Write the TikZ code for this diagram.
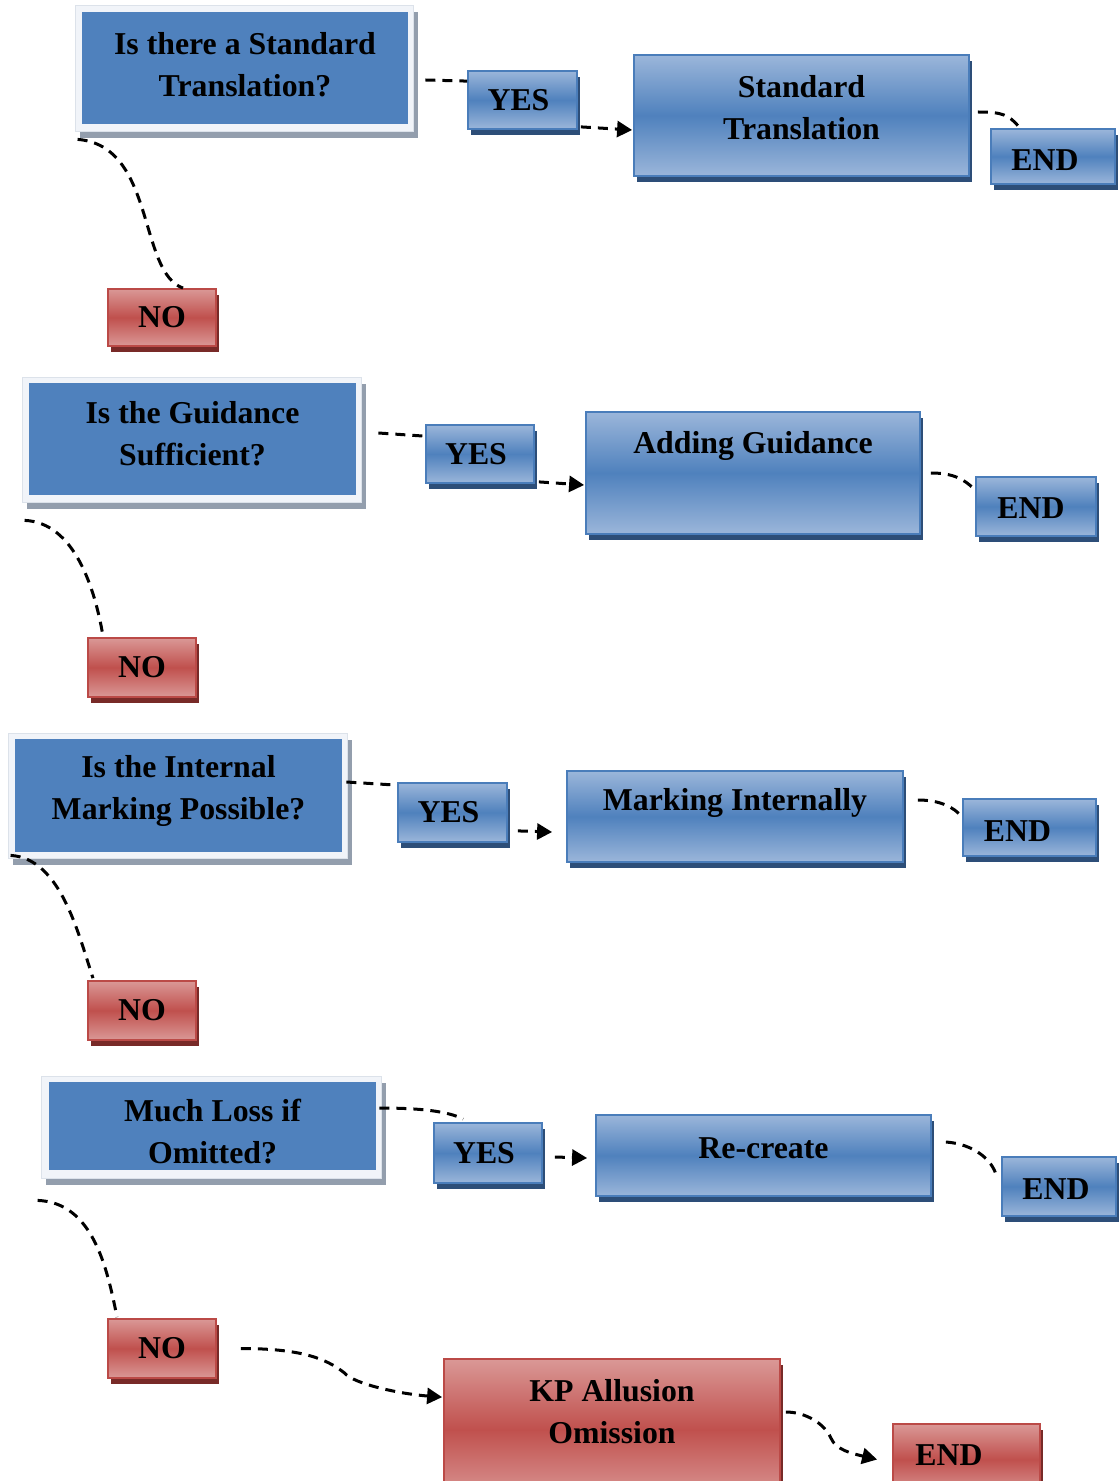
\documentclass[tikz,border=0pt]{standalone}
\usepackage{fontspec}
\setmainfont{Liberation Serif}
\usetikzlibrary{calc,shadows,arrows.meta}
\definecolor{qblue}{HTML}{4F81BD}
\definecolor{qframebg}{HTML}{F1F4F9}
\definecolor{qframeline}{HTML}{DCE2EA}
\definecolor{qshadow}{HTML}{939EAD}
\definecolor{blight}{HTML}{9BB6DA}
\definecolor{bmid}{HTML}{4F81BD}
\definecolor{bborder}{HTML}{4A7DBA}
\definecolor{bshadow}{HTML}{2D4E78}
\definecolor{rlight}{HTML}{DA9896}
\definecolor{rmid}{HTML}{C0504D}
\definecolor{rborder}{HTML}{BB4A47}
\definecolor{rshadow}{HTML}{782A28}
\begin{document}
\begin{tikzpicture}[x=0.5pt,y=-0.5pt,
  txt/.style={font=\fontsize{15.9}{21}\selectfont\bfseries, align=center, text=black, inner sep=0pt},
  qframe/.style={rectangle, fill=qframebg, draw=qframeline, line width=0.4pt, inner sep=0pt,
    drop shadow={shadow xshift=2.5pt, shadow yshift=-3.5pt, fill=qshadow, opacity=1}},
  qbox/.style={rectangle, fill=qblue, inner sep=0pt},
  bbox/.style={rectangle, draw=bborder, line width=0.9pt, inner sep=0pt,
    top color=blight, bottom color=blight, middle color=bmid,
    drop shadow={shadow xshift=1.5pt, shadow yshift=-3pt, fill=bshadow, opacity=1}},
  rbox/.style={rectangle, draw=rborder, line width=0.9pt, inner sep=0pt,
    top color=rlight, bottom color=rlight, middle color=rmid,
    drop shadow={shadow xshift=1.5pt, shadow yshift=-3pt, fill=rshadow, opacity=1}},
  conn/.style={draw=black, line width=1.5pt, dash pattern=on 5pt off 3.5pt},
  arr/.style={conn, -{Triangle[length=7.5pt,width=8pt]}}
]
\useasboundingbox (0,0) rectangle (1119,1481);

% ---------- row 1 ----------
\node[qframe, minimum width=169pt, minimum height=63pt] (q1f) at (244,68) {};
\node[qbox, minimum width=163pt, minimum height=56pt,
  label={[txt,yshift=1.5pt]center:Is there a Standard\\Translation?}] (q1) at (245,68) {};
\node[bbox, minimum width=54.5pt, minimum height=29pt, label={[txt,xshift=-2pt]center:YES}] (yes1) at (522.5,100) {};
\node[bbox, minimum width=167.5pt, minimum height=60.5pt,
  label={[txt,yshift=3.75pt]center:Standard\\Translation}] (st) at (801.5,115.5) {};
\node[bbox, minimum width=62pt, minimum height=27.5pt, label={[txt,xshift=-4pt,yshift=-1.75pt]center:END}] (end1) at (1053,156.5) {};
\node[rbox, minimum width=54pt, minimum height=28.5pt, label={[txt]center:NO}] (no1) at (162,317.5) {};

% ---------- row 2 ----------
\node[qframe, minimum width=169.5pt, minimum height=62.5pt] (q2f) at (191.5,439.5) {};
\node[qbox, minimum width=163.5pt, minimum height=56pt,
  label={[txt,yshift=2.5pt]center:Is the Guidance\\Sufficient?}] (q2) at (192.5,439) {};
\node[bbox, minimum width=54pt, minimum height=29pt, label={[txt,xshift=-2pt]center:YES}] (yes2) at (480,454) {};
\node[bbox, minimum width=167pt, minimum height=61pt,
  label={[txt,yshift=13.5pt]center:Adding Guidance}] (ag) at (753,473) {};
\node[bbox, minimum width=60pt, minimum height=29.5pt, label={[txt,xshift=-2.5pt,yshift=-0.75pt]center:END}] (end2) at (1036,506.5) {};
\node[rbox, minimum width=54pt, minimum height=29.5pt, label={[txt]center:NO}] (no2) at (142,667.5) {};

% ---------- row 3 ----------
\node[qframe, minimum width=169.5pt, minimum height=62.5pt] (q3f) at (177.5,795.5) {};
\node[qbox, minimum width=163.5pt, minimum height=56.5pt,
  label={[txt,yshift=2.25pt]center:Is the Internal\\Marking Possible?}] (q3) at (178.5,795.5) {};
\node[bbox, minimum width=54.5pt, minimum height=29.5pt, label={[txt,xshift=-2pt]center:YES}] (yes3) at (452.5,812.5) {};
\node[bbox, minimum width=168pt, minimum height=45.5pt,
  label={[txt,yshift=6.75pt]center:Marking Internally}] (mi) at (735,816.5) {};
\node[bbox, minimum width=66.5pt, minimum height=28.5pt, label={[txt,xshift=-6pt,yshift=-1.75pt]center:END}] (end3) at (1029.5,827.5) {};
\node[rbox, minimum width=54pt, minimum height=29.5pt, label={[txt]center:NO}] (no3) at (142,1010.5) {};

% ---------- row 4 ----------
\node[qframe, minimum width=170pt, minimum height=51pt] (q4f) at (211,1127) {};
\node[qbox, minimum width=163.5pt, minimum height=44pt,
  label={[txt,yshift=-3pt]center:Much Loss if\\Omitted?}] (q4) at (212.5,1126) {};
\node[bbox, minimum width=54pt, minimum height=30pt, label={[txt,xshift=-2pt]center:YES}] (yes4) at (488,1153) {};
\node[bbox, minimum width=167.5pt, minimum height=40.5pt,
  label={[txt,yshift=3.75pt]center:Re-create}] (rc) at (763.5,1155.5) {};
\node[bbox, minimum width=57pt, minimum height=29.5pt, label={[txt,xshift=-1.5pt,yshift=-1.25pt]center:END}] (end4) at (1059,1186.5) {};
\node[rbox, minimum width=54pt, minimum height=29.5pt, label={[txt]center:NO}] (no4) at (162,1348.5) {};

% ---------- row 5 ----------
\node[rbox, minimum width=168pt, minimum height=70.5pt,
  label={[txt,yshift=8.75pt]center:KP Allusion\\Omission}] (kp) at (612,1429.5) {};
\node[rbox, minimum width=73.5pt, minimum height=35.5pt, label={[txt,xshift=-8.75pt,yshift=2.25pt]center:END}] (end5) at (966.5,1459.5) {};

% ---------- connectors ----------
% row 1
\draw[conn] ($(q1f.east)+(12,12)$) -- ($(yes1.north west)+(0,11)$);
\draw[arr] ($(yes1.south east)+(3,-3)$) -- ($(st.west)+(-1,14.5)$);
\draw[conn] ($(st.east)+(8,-3.5)$) .. controls +(25,0) and +(-10,-12) .. ($(end1.north west)+(29,-1)$);
\draw[conn] ($(q1f.south west)+(3,8)$) .. controls +(78,6) and +(-45,-16) .. ($(no1.north)+(21,0)$);
% row 2
\draw[conn] ($(q2f.east)+(17,-6.5)$) -- ($(yes2.north west)+(-1,12)$);
\draw[arr] ($(yes2.south east)+(4,-2)$) -- ($(ag.west)+(-1,12)$);
\draw[conn] ($(ag.east)+(10,0)$) .. controls +(22,0) and +(-10,-10) .. ($(end2.north west)+(-1,13)$);
\draw[conn] ($(q2f.south west)+(3,18)$) .. controls +(50,2) and +(-8,-47) .. ($(no2.north)+(-39,-1)$);
% row 3
\draw[conn] ($(q3f.east)+(-1,-13.5)$) -- ($(yes3.north west)+(-1,3)$);
\draw[arr] ($(yes3.south east)+(10,-12)$) -- ($(mi.west)+(-14,15.5)$);
\draw[conn] ($(mi.east)+(14,-16.5)$) .. controls +(22,0) and +(-8,-10) .. ($(end3.north west)+(0,19)$);
\draw[conn] ($(q3f.south west)+(3,-3)$) .. controls +(50,3) and +(-15,-45) .. ($(no3.north)+(-49,-2)$);
% row 4
\draw[conn] ($(q4f.east)+(-2,-19)$) .. controls +(40,0) and +(-15,-8) .. ($(yes4.north west)+(30,-3)$);
\draw[arr] ($(yes4.east)+(12,4)$) -- ($(rc.west)+(-8,2.5)$);
\draw[conn] ($(rc.east)+(14,-13.5)$) .. controls +(28,2) and +(-4,-15) .. ($(end4.west)+(-5,-11.5)$);
\draw[conn] ($(q4f.south west)+(-3,22)$) .. controls +(55,2) and +(-10,-50) .. ($(no4.north)+(-45,-1)$);
% row 5
\draw[arr] ($(no4.east)+(24,0)$) .. controls +(60,0) and +(-18,-14) .. ++(103,24)
  .. controls +(10,12) and +(-40,-3) .. ($(kp.north west)+(-1,39)$);
\draw[arr] ($(kp.east)+(5,-17.5)$) .. controls +(20,0) and +(-6,-14) .. ++(45,26)
  .. controls +(5,12) and +(-25,-6) .. ($(end5.west)+(-15,0)$);
\end{tikzpicture}
\end{document}
